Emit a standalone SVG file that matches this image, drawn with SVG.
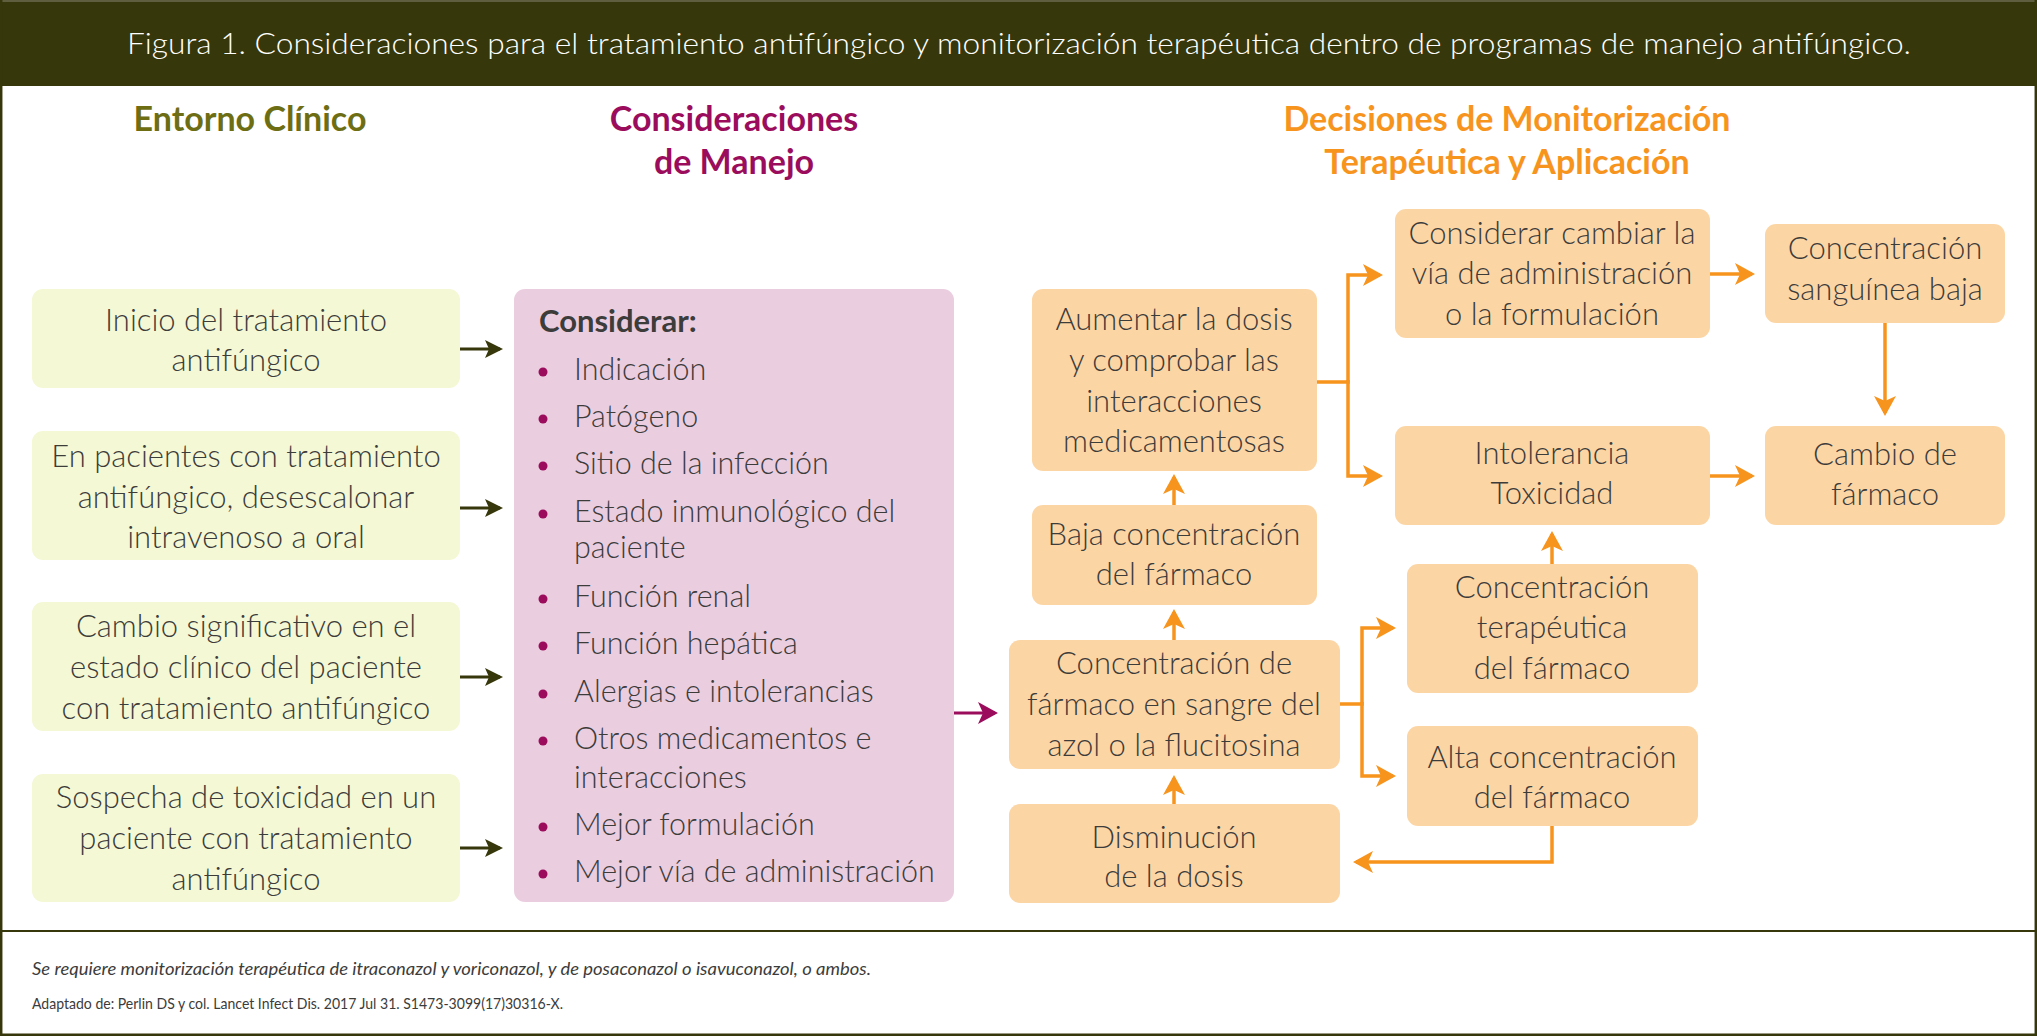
<svg xmlns="http://www.w3.org/2000/svg" width="2037" height="1036" viewBox="0 0 2037 1036">
<defs>
<style>
.title{font-family:Lato,"Open Sans",sans-serif;font-weight:300;font-size:30px;fill:#ffffff}
.hd{font-family:Lato,"Open Sans",sans-serif;font-weight:700;font-size:34px;text-anchor:middle}
.t{font-family:Lato,"Open Sans",sans-serif;font-weight:300;font-size:31px;fill:#3c3c3b;text-anchor:middle}
.li{font-family:Lato,"Open Sans",sans-serif;font-weight:300;font-size:30.5px;fill:#3c3c3b}
.lb{font-family:Lato,"Open Sans",sans-serif;font-weight:700;font-size:31px;fill:#3c3c3b}
.yb{fill:#f5f8d4}
.pb{fill:#ebcde0}
.ob{fill:#fcd5a5}
.oc{fill:none;stroke:#f7941d;stroke-width:3.5}
.dc{fill:none;stroke:#36370a;stroke-width:3}
.mc{fill:none;stroke:#9b0d5c;stroke-width:3}
.bul{fill:#9b0d5c}
.ft{font-family:Lato,"Open Sans",sans-serif;fill:#3c3c3b}
</style>
<marker id="ao" markerUnits="userSpaceOnUse" markerWidth="22" markerHeight="24" refX="17" refY="11" orient="auto">
<path d="M0,0 L20,11 L0,22 L5,11 Z" fill="#f7941d"/>
</marker>
<marker id="ad" markerUnits="userSpaceOnUse" markerWidth="20" markerHeight="20" refX="15" refY="9" orient="auto">
<path d="M0,0 L18,9 L0,18 L4,9 Z" fill="#36370a"/>
</marker>
<marker id="am" markerUnits="userSpaceOnUse" markerWidth="22" markerHeight="24" refX="17" refY="11" orient="auto">
<path d="M0,0 L20,11 L0,22 L5,11 Z" fill="#9b0d5c"/>
</marker>
</defs>

<rect x="0" y="0" width="2037" height="1036" fill="#ffffff"/>
<g id="frame">
<rect x="0" y="0" width="2037" height="86" fill="#36370a"/>
<line x1="0" y1="1" x2="2037" y2="1" stroke="#5f5f3f" stroke-width="2"/>
<path d="M1.2,0 V1034.8 H2035.8 V0" fill="none" stroke="#36370a" stroke-width="2.5"/>
<line x1="0" y1="931" x2="2037" y2="931" stroke="#36370a" stroke-width="2"/>
<text class="title" x="127" y="54" textLength="1784" lengthAdjust="spacingAndGlyphs">Figura 1. Consideraciones para el tratamiento antifúngico y monitorización terapéutica dentro de programas de manejo antifúngico.</text>
</g>

<g id="headings">
<text class="hd" x="250" y="131" fill="#6d6e14">Entorno Clínico</text>
<text class="hd" x="734" y="131" fill="#9b0d5c">Consideraciones</text>
<text class="hd" x="734" y="174" fill="#9b0d5c">de Manejo</text>
<text class="hd" x="1507" y="131" fill="#f7941d">Decisiones de Monitorización</text>
<text class="hd" x="1507" y="174" fill="#f7941d">Terapéutica y Aplicación</text>
</g>

<g id="n-inicio">
<rect class="yb" x="32" y="289" width="428" height="99" rx="11"/>
<text class="t" x="246" y="331">Inicio del tratamiento</text>
<text class="t" x="246" y="371">antifúngico</text>
</g>
<g id="n-desescalonar">
<rect class="yb" x="32" y="431" width="428" height="129" rx="11"/>
<text class="t" x="246" y="467">En pacientes con tratamiento</text>
<text class="t" x="246" y="508">antifúngico, desescalonar</text>
<text class="t" x="246" y="548">intravenoso a oral</text>
</g>
<g id="n-cambio-clinico">
<rect class="yb" x="32" y="602" width="428" height="129" rx="11"/>
<text class="t" x="246" y="637">Cambio significativo en el</text>
<text class="t" x="246" y="678">estado clínico del paciente</text>
<text class="t" x="246" y="719">con tratamiento antifúngico</text>
</g>
<g id="n-sospecha">
<rect class="yb" x="32" y="774" width="428" height="128" rx="11"/>
<text class="t" x="246" y="808">Sospecha de toxicidad en un</text>
<text class="t" x="246" y="849">paciente con tratamiento</text>
<text class="t" x="246" y="890">antifúngico</text>
</g>

<g id="n-considerar">
<rect class="pb" x="514" y="289" width="440" height="613" rx="11"/>
<text class="lb" x="539" y="332">Considerar:</text>
<circle class="bul" cx="543" cy="372" r="4.5"/><text class="li" x="574" y="380">Indicación</text>
<circle class="bul" cx="543" cy="419" r="4.5"/><text class="li" x="574" y="427">Patógeno</text>
<circle class="bul" cx="543" cy="466" r="4.5"/><text class="li" x="574" y="474">Sitio de la infección</text>
<circle class="bul" cx="543" cy="514" r="4.5"/><text class="li" x="574" y="522">Estado inmunológico del</text>
<text class="li" x="574" y="558">paciente</text>
<circle class="bul" cx="543" cy="599" r="4.5"/><text class="li" x="574" y="607">Función renal</text>
<circle class="bul" cx="543" cy="646" r="4.5"/><text class="li" x="574" y="654">Función hepática</text>
<circle class="bul" cx="543" cy="694" r="4.5"/><text class="li" x="574" y="702">Alergias e intolerancias</text>
<circle class="bul" cx="543" cy="741" r="4.5"/><text class="li" x="574" y="749">Otros medicamentos e</text>
<text class="li" x="574" y="788">interacciones</text>
<circle class="bul" cx="543" cy="827" r="4.5"/><text class="li" x="574" y="835">Mejor formulación</text>
<circle class="bul" cx="543" cy="874" r="4.5"/><text class="li" x="574" y="882">Mejor vía de administración</text>
</g>

<g id="n-aumentar">
<rect class="ob" x="1032" y="289" width="285" height="182" rx="11"/>
<text class="t" x="1174" y="330">Aumentar la dosis</text>
<text class="t" x="1174" y="371">y comprobar las</text>
<text class="t" x="1174" y="412">interacciones</text>
<text class="t" x="1174" y="452">medicamentosas</text>
</g>
<g id="n-baja">
<rect class="ob" x="1032" y="505" width="285" height="100" rx="11"/>
<text class="t" x="1174" y="545">Baja concentración</text>
<text class="t" x="1174" y="585">del fármaco</text>
</g>
<g id="n-concentracion">
<rect class="ob" x="1009" y="640" width="331" height="129" rx="11"/>
<text class="t" x="1174" y="674">Concentración de</text>
<text class="t" x="1174" y="715">fármaco en sangre del</text>
<text class="t" x="1174" y="756">azol o la flucitosina</text>
</g>
<g id="n-disminucion">
<rect class="ob" x="1009" y="804" width="331" height="99" rx="11"/>
<text class="t" x="1174" y="848">Disminución</text>
<text class="t" x="1174" y="887">de la dosis</text>
</g>
<g id="n-cambiar-via">
<rect class="ob" x="1395" y="209" width="315" height="129" rx="11"/>
<text class="t" x="1552" y="244">Considerar cambiar la</text>
<text class="t" x="1552" y="284">vía de administración</text>
<text class="t" x="1552" y="325">o la formulación</text>
</g>
<g id="n-intolerancia">
<rect class="ob" x="1395" y="426" width="315" height="99" rx="11"/>
<text class="t" x="1552" y="464">Intolerancia</text>
<text class="t" x="1552" y="504">Toxicidad</text>
</g>
<g id="n-terapeutica">
<rect class="ob" x="1407" y="564" width="291" height="129" rx="11"/>
<text class="t" x="1552" y="598">Concentración</text>
<text class="t" x="1552" y="638">terapéutica</text>
<text class="t" x="1552" y="679">del fármaco</text>
</g>
<g id="n-alta">
<rect class="ob" x="1407" y="726" width="291" height="100" rx="11"/>
<text class="t" x="1552" y="768">Alta concentración</text>
<text class="t" x="1552" y="808">del fármaco</text>
</g>
<g id="n-sanguinea">
<rect class="ob" x="1765" y="224" width="240" height="99" rx="11"/>
<text class="t" x="1885" y="259">Concentración</text>
<text class="t" x="1885" y="300">sanguínea baja</text>
</g>
<g id="n-cambio-farmaco">
<rect class="ob" x="1765" y="426" width="240" height="99" rx="11"/>
<text class="t" x="1885" y="465">Cambio de</text>
<text class="t" x="1885" y="505">fármaco</text>
</g>

<g id="connectors">
<path class="dc" d="M460,349 H500" marker-end="url(#ad)"/>
<path class="dc" d="M460,508 H500" marker-end="url(#ad)"/>
<path class="dc" d="M460,677 H500" marker-end="url(#ad)"/>
<path class="dc" d="M460,848 H500" marker-end="url(#ad)"/>
<path class="mc" d="M954,713 H995" marker-end="url(#am)"/>
<path class="oc" d="M1174,505 V477" marker-end="url(#ao)"/>
<path class="oc" d="M1174,640 V612" marker-end="url(#ao)"/>
<path class="oc" d="M1174,804 V778" marker-end="url(#ao)"/>
<path class="oc" d="M1317,382 H1348 V275 H1380" marker-end="url(#ao)"/>
<path class="oc" d="M1348,380 V476 H1380" marker-end="url(#ao)"/>
<path class="oc" d="M1340,704 H1362 V628 H1393" marker-end="url(#ao)"/>
<path class="oc" d="M1362,702 V776 H1393" marker-end="url(#ao)"/>
<path class="oc" d="M1552,826 V862 H1356" marker-end="url(#ao)"/>
<path class="oc" d="M1552,564 V534" marker-end="url(#ao)"/>
<path class="oc" d="M1710,274 H1752" marker-end="url(#ao)"/>
<path class="oc" d="M1710,476 H1752" marker-end="url(#ao)"/>
<path class="oc" d="M1885,323 V413" marker-end="url(#ao)"/>
</g>

<g id="footer">
<text class="ft" x="32" y="975" font-size="18" font-style="italic" font-weight="400" textLength="839" lengthAdjust="spacingAndGlyphs">Se requiere monitorización terapéutica de itraconazol y voriconazol, y de posaconazol o isavuconazol, o ambos.</text>
<text class="ft" x="32" y="1009" font-size="15" font-weight="400" textLength="531" lengthAdjust="spacingAndGlyphs">Adaptado de: Perlin DS y col. Lancet Infect Dis. 2017 Jul 31. S1473-3099(17)30316-X.</text>
</g>
</svg>
